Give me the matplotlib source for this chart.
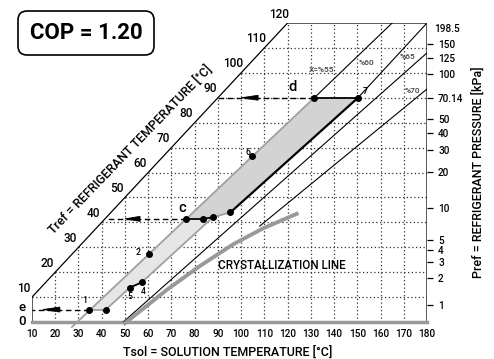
import matplotlib.pyplot as plt
from matplotlib.patches import Polygon, FancyBboxPatch

plt.rcParams['font.family'] = ['Roboto', 'DejaVu Sans']
plt.rcParams['font.weight'] = 'medium'

# axis ticks
tsol_ticks = list(range(10, 181, 10))
tref_labels = list(range(10, 121, 10))

# right axis: pressure [kPa] placed at the water saturation temperature
p_labels = ['1', '2', '3', '4', '5', '10', '20', '30', '40', '50', '70.14', '100', '125', '150']
p_tref = [7.0, 17.5, 24.1, 29.0, 32.9, 45.8, 60.1, 69.1, 75.9, 81.3, 90.0, 99.6, 106.0, 111.4]

# concentration lines (Tsol, Tref)
x55_tsol = [27.2, 131.5, 165.0]
x55_tref = [-2.0, 90.0, 120.0]
x60_tsol = [95.4, 150.3, 179.5]
x60_tref = [44.0, 90.0, 119.5]
x65_tsol = [49.3, 180.0]
x65_tref = [0.0, 108.0]
x70_tsol = [108.0, 180.0]
x70_tref = [38.5, 93.5]

# crystallization line
cryst_tsol = [50.0, 68.0, 82.3, 96.6, 109.5, 123.9]
cryst_tref = [-0.5, 12.9, 22.5, 31.2, 37.6, 43.4]

# cycle state points: 1, 1b, 5, 4, 2, c, c2, c3, c4, 6, d, 7
pts_tsol = [34.6, 41.8, 52.1, 57.2, 60.3, 76.1, 83.5, 87.8, 95.4, 104.7, 131.5, 150.3]
pts_tref = [5.0, 5.0, 13.8, 15.9, 27.3, 41.4, 41.4, 42.0, 44.0, 66.7, 90.0, 90.0]

# levels e, c, d and where the arrow head sits
arrow_tref = [5.0, 41.4, 90.0]
arrow_from = [34.6, 76.1, 131.5]
arrow_to = [10.0, 41.4, 90.0]
arrow_tip = [14.7, 50.0, 100.2]
arrow_base = [22.0, 56.5, 107.3]

fig = plt.figure(figsize=(4.94, 3.59), dpi=100)
ax = fig.add_axes([32 / 494, 1 - 322 / 359, 395 / 494, 299 / 359])
ax.set_xlim(10, 180)
ax.set_ylim(0, 120)
for s in ax.spines.values():
    s.set_visible(False)

# dotted grid clipped by the water line
dot = dict(color='#333333', lw=0.9, ls=(0, (1, 2.0)), zorder=1)
for t in tsol_ticks[1:-1]:
    ax.plot([t, t], [0, min(t, 120)], **dot)
for t in tref_labels[:-1]:
    ax.plot([max(t, 10), 180], [t, t], **dot)

# frame
ax.plot([10, 10, 120, 180, 180], [0, 10, 120, 120, 0], color='k', lw=0.9, zorder=3)
ax.plot([10, 180], [0, 0], color='#999999', lw=2.5, zorder=3, clip_on=False)

# fills
light = [0, 1, 2, 3, 7, 6, 5]
dark = [5, 6, 7, 8, 11, 10]
ax.add_patch(Polygon([(pts_tsol[i], pts_tref[i]) for i in light], closed=True,
                     fc='#e6e6e6', ec='none', zorder=2))
ax.add_patch(Polygon([(pts_tsol[i], pts_tref[i]) for i in dark], closed=True,
                     fc='#d3d3d3', ec='none', zorder=2))

# concentration lines
ax.plot(x55_tsol[:2], x55_tref[:2], color='#a0a0a0', lw=1.3, zorder=4, clip_on=False)
ax.plot(x55_tsol[1:], x55_tref[1:], color='k', lw=0.8, zorder=4)
ax.plot(x60_tsol[:2], x60_tref[:2], color='k', lw=1.6, zorder=4)
ax.plot(x60_tsol[1:], x60_tref[1:], color='k', lw=0.8, zorder=4)
ax.plot(x65_tsol, x65_tref, color='k', lw=0.8, zorder=4)
ax.plot(x70_tsol, x70_tref, color='k', lw=0.8, zorder=4)
ax.plot(cryst_tsol, cryst_tref, color='#999999', lw=2.8, zorder=4, clip_on=False)

# process segments
for a, b in [(0, 1), (1, 2), (3, 7), (7, 8)]:
    ax.plot([pts_tsol[a], pts_tsol[b]], [pts_tref[a], pts_tref[b]], color='#a0a0a0', lw=1.3, zorder=4)
for a, b in [(2, 3), (5, 6), (6, 7), (11, 10)]:
    ax.plot([pts_tsol[a], pts_tsol[b]], [pts_tref[a], pts_tref[b]], color='k', lw=1.3, zorder=4)
ax.scatter(pts_tsol, pts_tref, s=16, color='k', zorder=6)

# dashed arrows to the refrigerant side
for y, x0, x1, tip, base in zip(arrow_tref, arrow_from, arrow_to, arrow_tip, arrow_base):
    ax.plot([x0, x1], [y, y], color='k', lw=1.0, ls=(0, (4, 2.5)), zorder=5, clip_on=False)
    ax.add_patch(Polygon([(tip, y), (base, y + 1.0), (base, y - 1.0)], closed=True,
                         fc='k', ec='k', lw=0.6, zorder=5))

# point numbers
for name, x, y in [('1', 32.8, 8.8), ('2', 55.5, 27.8), ('5', 52.2, 10.2),
                   ('4', 57.9, 12.4), ('6', 102.8, 68.2), ('7', 153.3, 92.5)]:
    ax.text(x, y, name, fontsize=6.3, ha='center', va='center', zorder=7)
for name, x, y in [('X=%55', 134.8, 101.2), ('%60', 154.1, 104.0),
                   ('%65', 171.8, 106.4), ('%70', 173.9, 92.8)]:
    ax.text(x, y, name, fontsize=6, color='#444444', ha='center', va='center', zorder=7)
ax.text(74.5, 45.7, 'c', fontsize=10.5, ha='center', va='center', zorder=7)
ax.text(122.2, 94.4, 'd', fontsize=10.5, ha='center', va='center', zorder=7)
ax.text(5.6, 5.8, 'e', fontsize=9.5, ha='center', va='center', clip_on=False)
ax.text(5.6, 0.4, '0', fontsize=9.5, ha='center', va='center', clip_on=False)
ax.text(117.5, 22.5, 'CRYSTALLIZATION LINE', fontsize=8.4, ha='center', va='center', zorder=7)

# refrigerant temperature labels along the water line
for t in tref_labels:
    ax.text(t - 3.5, t + 3.6, str(t), fontsize=8.5, ha='center', va='center', clip_on=False)

# bottom and right ticks
ax.set_xticks(tsol_ticks)
ax.set_xticklabels([str(t) for t in tsol_ticks], fontsize=7.2)
ax.tick_params(axis='x', length=0, pad=5)
ax.yaxis.tick_right()
ax.set_yticks(p_tref)
ax.set_yticklabels(p_labels, fontsize=7.2)
ax.tick_params(axis='y', length=4, width=0.9, direction='out', pad=4)
ax.text(183.0, 117.6, '198.5', fontsize=7.2, ha='left', va='center', clip_on=False)

# figure level text in pixel coordinates
ov = fig.add_axes([0, 0, 1, 1])
ov.set_xlim(0, 494)
ov.set_ylim(359, 0)
ov.axis('off')
ov.patch.set_alpha(0)
ov.add_patch(FancyBboxPatch((18, 11), 136, 44, boxstyle='round,pad=0,rounding_size=9',
                            fc='white', ec='k', lw=1.2))
ov.text(86, 33, 'COP = 1.20', fontsize=16, fontweight='bold', ha='center', va='center')
ov.text(228, 352, 'Tsol = SOLUTION TEMPERATURE [°C]', fontsize=9, ha='center', va='center')
ov.text(130, 150, 'Tref = REFRIGERANT TEMPERATURE [°C]', fontsize=9, rotation=46,
        ha='center', va='center')
ov.text(478, 172, 'Pref = REFRIGERANT PRESSURE [kPa]', fontsize=9, rotation=90,
        ha='center', va='center')

fig.savefig('out.png', dpi=100)
